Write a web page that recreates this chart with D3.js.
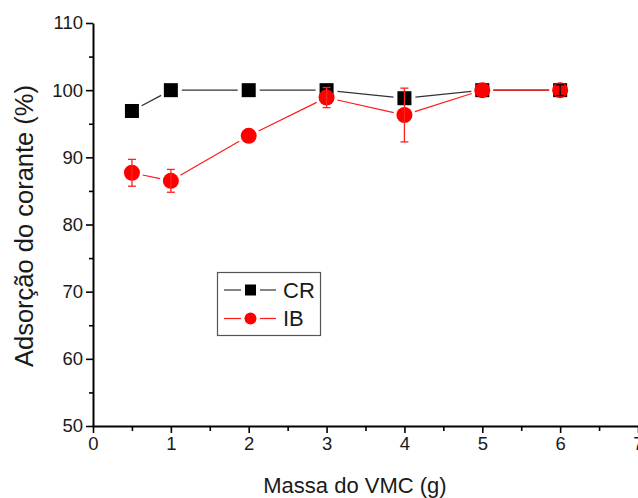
<!DOCTYPE html>
<html>
<head>
<meta charset="utf-8">
<script src="https://cdn.jsdelivr.net/npm/d3@7"></script>
<style>
  body { margin: 0; background: #fff; }
  svg { display: block; font-family: "Liberation Sans", Arial, sans-serif; }
</style>
</head>
<body>
<div id="container"></div>
<script>
/* DATA */
const massa = [0.5, 1, 2, 3, 4, 5, 6];          // Massa do VMC (g)
const crValues = [96.9, 100, 100, 100, 98.8, 100, 100];
const crErrors = [0, 0, 0, 0, 0, 0, 0.8];
const ibValues = [87.7, 86.5, 93.2, 98.9, 96.3, 100, 100];
const ibErrors = [2.0, 1.7, 0, 1.5, 4.0, 0, 0];
const xTicks = [0, 1, 2, 3, 4, 5, 6, 7];
const xMinorTicks = [0.5, 1.5, 2.5, 3.5, 4.5, 5.5, 6.5];
const yTicks = [50, 60, 70, 80, 90, 100, 110];
const yMinorTicks = [55, 65, 75, 85, 95, 105];
const seriesNames = ["CR", "IB"];

/* CONSTANTS */
const width = 638, height = 498;
const plot = { left: 93, right: 638, top: 23, bottom: 426 };
const gap = 11; // Origin-style gap between line and symbol

const svg = d3.select("#container").append("svg")
  .attr("width", width)
  .attr("height", height);

/* SCALES */
const xScale = d3.scaleLinear().domain([0, 7]).range([plot.left, plot.right]);
const yScale = d3.scaleLinear().domain([50, 110]).range([plot.bottom, plot.top]);

/* AXES */
const xAxis = svg.append("g")
  .attr("transform", `translate(0, ${plot.bottom})`)
  .call(d3.axisBottom(xScale).tickValues(xTicks).tickFormat(d3.format("d"))
    .tickSize(7).tickSizeOuter(0).tickPadding(4));
const xMinor = svg.append("g")
  .attr("transform", `translate(0, ${plot.bottom})`)
  .call(d3.axisBottom(xScale).tickValues(xMinorTicks).tickSize(5).tickFormat(""));
xMinor.select(".domain").remove();

const yAxis = svg.append("g")
  .attr("transform", `translate(${plot.left}, 0)`)
  .call(d3.axisLeft(yScale).tickValues(yTicks).tickFormat(d3.format("d"))
    .tickSize(7).tickSizeOuter(0).tickPadding(3));
const yMinor = svg.append("g")
  .attr("transform", `translate(${plot.left}, 0)`)
  .call(d3.axisLeft(yScale).tickValues(yMinorTicks).tickSize(4).tickFormat(""));
yMinor.select(".domain").remove();

svg.selectAll(".domain").attr("stroke", "#000").attr("stroke-width", 2);
svg.selectAll(".tick line").attr("stroke", "#000").attr("stroke-width", 1.6);
svg.selectAll(".tick text")
  .attr("fill", "#1a1a1a")
  .style("font-size", "18.5px")
  .style("font-family", "'Liberation Sans', Arial, sans-serif");

/* AXIS TITLES */
svg.append("text")
  .attr("x", 355)
  .attr("y", 493)
  .attr("text-anchor", "middle")
  .style("font-size", "22px")
  .attr("fill", "#1a1a1a")
  .text("Massa do VMC (g)");

svg.append("text")
  .attr("transform", "translate(33, 226) rotate(-90)")
  .attr("text-anchor", "middle")
  .style("font-size", "25.5px")
  .attr("fill", "#1a1a1a")
  .text("Adsorção do corante (%)");

/* helper: line segments broken around the symbols */
function segments(values) {
  const segs = [];
  for (let i = 0; i < massa.length - 1; i++) {
    const x1 = xScale(massa[i]), y1 = yScale(values[i]);
    const x2 = xScale(massa[i + 1]), y2 = yScale(values[i + 1]);
    const len = Math.hypot(x2 - x1, y2 - y1);
    const ux = (x2 - x1) / len, uy = (y2 - y1) / len;
    segs.push({ x1: x1 + ux * gap, y1: y1 + uy * gap, x2: x2 - ux * gap, y2: y2 - uy * gap });
  }
  return segs;
}

function drawLine(values, color, w) {
  svg.append("g").selectAll("line")
    .data(segments(values))
    .join("line")
    .attr("x1", d => d.x1).attr("y1", d => d.y1)
    .attr("x2", d => d.x2).attr("y2", d => d.y2)
    .attr("stroke", color)
    .attr("stroke-width", w);
}

function drawErrors(values, errors, color, w) {
  const data = massa.map((m, i) => ({ x: m, y: values[i], e: errors[i] })).filter(d => d.e > 0);
  const g = svg.append("g").attr("stroke", color).attr("stroke-width", w);
  g.selectAll(".v").data(data).join("line")
    .attr("x1", d => xScale(d.x)).attr("x2", d => xScale(d.x))
    .attr("y1", d => yScale(d.y - d.e)).attr("y2", d => yScale(d.y + d.e));
  g.selectAll(".top").data(data).join("line")
    .attr("x1", d => xScale(d.x) - 4).attr("x2", d => xScale(d.x) + 4)
    .attr("y1", d => yScale(d.y + d.e)).attr("y2", d => yScale(d.y + d.e));
  g.selectAll(".bot").data(data).join("line")
    .attr("x1", d => xScale(d.x) - 4).attr("x2", d => xScale(d.x) + 4)
    .attr("y1", d => yScale(d.y - d.e)).attr("y2", d => yScale(d.y - d.e));
}

/* CR series */
drawLine(crValues, "#333", 1.3);
svg.append("g").selectAll("rect")
  .data(massa.map((m, i) => ({ x: m, y: crValues[i] })))
  .join("rect")
  .attr("x", d => xScale(d.x) - 7)
  .attr("y", d => yScale(d.y) - 7)
  .attr("width", 14).attr("height", 14)
  .attr("fill", "#000");

/* IB series */
drawLine(ibValues, "#ff1a1a", 1.2);
svg.append("g").selectAll("circle")
  .data(massa.map((m, i) => ({ x: m, y: ibValues[i] })))
  .join("circle")
  .attr("cx", d => xScale(d.x))
  .attr("cy", d => yScale(d.y))
  .attr("r", 8)
  .attr("fill", "#ff0000");

drawErrors(ibValues, ibErrors, "#ff2020", 1.3);
drawErrors(crValues, crErrors, "#000", 1.3);

/* LEGEND */
const legend = svg.append("g");
legend.append("rect")
  .attr("x", 217.5).attr("y", 272.5)
  .attr("width", 103).attr("height", 63)
  .attr("fill", "#fff")
  .attr("stroke", "#555").attr("stroke-width", 1.2);

const legendRows = legend.selectAll(".row")
  .data(seriesNames)
  .join("g")
  .attr("transform", (d, i) => `translate(0, ${290 + i * 28.5})`);

legendRows.append("line").attr("x1", 224).attr("x2", 241).attr("y1", 0).attr("y2", 0)
  .attr("stroke", (d, i) => i === 0 ? "#333" : "#ff1a1a").attr("stroke-width", 1.2);
legendRows.append("line").attr("x1", 260).attr("x2", 276).attr("y1", 0).attr("y2", 0)
  .attr("stroke", (d, i) => i === 0 ? "#333" : "#ff1a1a").attr("stroke-width", 1.2);
legendRows.filter((d, i) => i === 0).append("rect")
  .attr("x", 245).attr("y", -5.5).attr("width", 11).attr("height", 11).attr("fill", "#000");
legendRows.filter((d, i) => i === 1).append("circle")
  .attr("cx", 250.5).attr("cy", 0).attr("r", 6).attr("fill", "#ff0000");
legendRows.append("text")
  .attr("x", 283).attr("y", 0).attr("dy", "0.36em")
  .style("font-size", "22px")
  .attr("fill", "#1a1a1a")
  .text(d => d);
</script>
</body>
</html>
